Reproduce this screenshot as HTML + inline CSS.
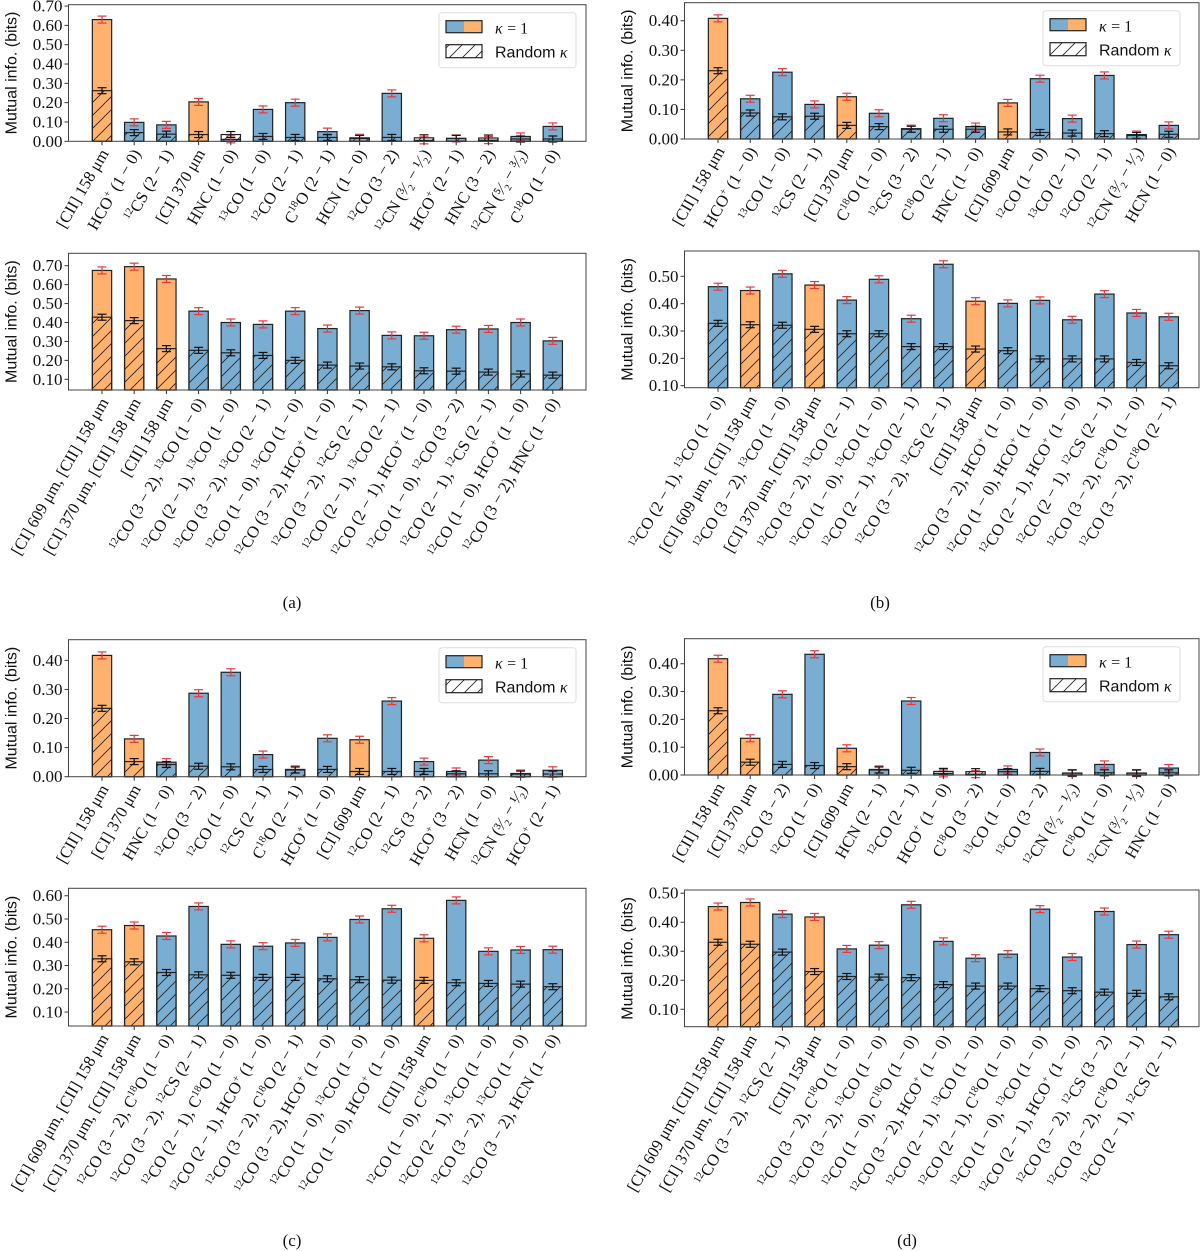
<!DOCTYPE html>
<html><head><meta charset="utf-8"><style>
html,body{margin:0;padding:0;background:#fff;}
svg{display:block;}
.tk{font-family:"Liberation Serif",serif;font-size:17px;fill:#111;}
.xl{font-family:"Liberation Serif",serif;font-size:16.5px;fill:#111;}
.yl{font-family:"Liberation Sans","DejaVu Sans",sans-serif;font-size:16px;fill:#111;}
.lg{font-family:"Liberation Sans","DejaVu Sans",sans-serif;font-size:16px;fill:#111;}
.cap{font-family:"Liberation Serif",serif;font-size:17px;fill:#111;}
</style></head><body>
<svg id="fig" width="1200" height="1251" viewBox="0 0 1200 1251" xmlns="http://www.w3.org/2000/svg">
<defs><pattern id="hatch" patternUnits="userSpaceOnUse" width="13" height="13"><path d="M-1,14 L14,-1 M-1,1 L1,-1 M12,14 L14,12" stroke="#222" stroke-width="0.8"/></pattern></defs>
</svg>
<script>
// ---- data arrays ----
const labelsA1=["[CII] 158 μm","HCO{+} (1 − 0)","{12}CS (2 − 1)","[CI] 370 μm","HNC (1 − 0)","{13}CO (1 − 0)","{12}CO (2 − 1)","C{18}O (2 − 1)","HCN (1 − 0)","{12}CO (3 − 2)","{12}CN (³⁄₂ − ¹⁄₂)","HCO{+} (2 − 1)","HNC (3 − 2)","{12}CN (⁵⁄₂ − ³⁄₂)","C{18}O (1 − 0)"];
const kappaA1=[0.63,0.098,0.085,0.204,0.010,0.165,0.200,0.050,0.018,0.248,0.005,0.015,0.006,0.025,0.077];
const randA1=[0.262,0.045,0.037,0.035,0.035,0.025,0.020,0.020,0.015,0.020,0.018,0.015,0.017,0.012,0.012];
const ticksA1=[0,0.1,0.2,0.3,0.4,0.5,0.6,0.7];

const labelsA2=["[CI] 609 μm, [CII] 158 μm","[CI] 370 μm, [CII] 158 μm","[CII] 158 μm","{12}CO (3 − 2), {13}CO (1 − 0)","{12}CO (2 − 1), {13}CO (1 − 0)","{12}CO (3 − 2), {13}CO (2 − 1)","{12}CO (1 − 0), {13}CO (1 − 0)","{12}CO (3 − 2), HCO{+} (1 − 0)","{12}CO (3 − 2), {12}CS (2 − 1)","{12}CO (2 − 1), {13}CO (2 − 1)","{12}CO (2 − 1), HCO{+} (1 − 0)","{12}CO (1 − 0), {12}CO (3 − 2)","{12}CO (2 − 1), {12}CS (2 − 1)","{12}CO (1 − 0), HCO{+} (1 − 0)","{12}CO (3 − 2), HNC (1 − 0)"];
const kappaA2=[0.675,0.695,0.63,0.46,0.40,0.39,0.46,0.368,0.463,0.332,0.33,0.362,0.366,0.40,0.303];
const randA2=[0.428,0.41,0.262,0.253,0.24,0.226,0.20,0.175,0.17,0.166,0.145,0.143,0.138,0.128,0.122];
const ticksA2=[0.1,0.2,0.3,0.4,0.5,0.6,0.7];

const labelsB1=["[CII] 158 μm","HCO{+} (1 − 0)","{13}CO (1 − 0)","{12}CS (2 − 1)","[CI] 370 μm","C{18}O (1 − 0)","{12}CS (3 − 2)","C{18}O (2 − 1)","HNC (1 − 0)","[CI] 609 μm","{12}CO (1 − 0)","{13}CO (2 − 1)","{12}CO (2 − 1)","{12}CN (³⁄₂ − ¹⁄₂)","HCN (1 − 0)"];
const kappaB1=[0.408,0.136,0.226,0.117,0.143,0.087,0.035,0.070,0.042,0.122,0.204,0.069,0.215,0.015,0.046];
const randB1=[0.231,0.088,0.075,0.077,0.046,0.042,0.033,0.033,0.033,0.024,0.022,0.020,0.018,0.012,0.016];
const ticksB1=[0,0.1,0.2,0.3,0.4];

const labelsB2=["{12}CO (2 − 1), {13}CO (1 − 0)","[CI] 609 μm, [CII] 158 μm","{12}CO (3 − 2), {13}CO (1 − 0)","[CI] 370 μm, [CII] 158 μm","{12}CO (3 − 2), {13}CO (2 − 1)","{12}CO (1 − 0), {13}CO (1 − 0)","{12}CO (2 − 1), {13}CO (2 − 1)","{12}CO (3 − 2), {12}CS (2 − 1)","[CII] 158 μm","{12}CO (3 − 2), HCO{+} (1 − 0)","{12}CO (1 − 0), HCO{+} (1 − 0)","{12}CO (2 − 1), HCO{+} (1 − 0)","{12}CO (2 − 1), {12}CS (2 − 1)","{12}CO (3 − 2), C{18}O (1 − 0)","{12}CO (3 − 2), C{18}O (2 − 1)"];
const kappaB2=[0.462,0.448,0.509,0.468,0.413,0.489,0.345,0.544,0.409,0.401,0.412,0.341,0.435,0.366,0.352];
const randB2=[0.328,0.323,0.321,0.306,0.29,0.29,0.243,0.243,0.234,0.228,0.198,0.198,0.198,0.185,0.173];
const ticksB2=[0.1,0.2,0.3,0.4,0.5];

const labelsC1=["[CII] 158 μm","[CI] 370 μm","HNC (1 − 0)","{12}CO (3 − 2)","{12}CO (1 − 0)","{12}CS (2 − 1)","C{18}O (2 − 1)","HCO{+} (1 − 0)","[CI] 609 μm","{12}CO (2 − 1)","{12}CS (3 − 2)","HCO{+} (3 − 2)","HCN (1 − 0)","{12}CN (³⁄₂ − ¹⁄₂)","HCO{+} (2 − 1)"];
const kappaC1=[0.417,0.130,0.050,0.287,0.359,0.076,0.025,0.132,0.127,0.260,0.052,0.018,0.057,0.011,0.022];
const randC1=[0.235,0.052,0.042,0.036,0.034,0.025,0.023,0.025,0.018,0.018,0.018,0.010,0.010,0.009,0.009];
const ticksC1=[0,0.1,0.2,0.3,0.4];

const labelsC2=["[CI] 609 μm, [CII] 158 μm","[CI] 370 μm, [CII] 158 μm","{12}CO (3 − 2), C{18}O (1 − 0)","{12}CO (3 − 2), {12}CS (2 − 1)","{12}CO (2 − 1), C{18}O (1 − 0)","{12}CO (2 − 1), HCO{+} (1 − 0)","{12}CO (3 − 2), C{18}O (2 − 1)","{12}CO (3 − 2), HCO{+} (1 − 0)","{12}CO (1 − 0), {13}CO (1 − 0)","{12}CO (1 − 0), HCO{+} (1 − 0)","[CII] 158 μm","{12}CO (1 − 0), C{18}O (1 − 0)","{12}CO (2 − 1), {13}CO (1 − 0)","{12}CO (3 − 2), {13}CO (1 − 0)","{12}CO (3 − 2), HCN (1 − 0)"];
const kappaC2=[0.454,0.472,0.427,0.554,0.391,0.383,0.397,0.421,0.498,0.544,0.417,0.58,0.361,0.367,0.368];
const randC2=[0.329,0.316,0.27,0.26,0.258,0.249,0.249,0.243,0.239,0.237,0.236,0.226,0.223,0.22,0.209];
const ticksC2=[0.1,0.2,0.3,0.4,0.5,0.6];

const labelsD1=["[CII] 158 μm","[CI] 370 μm","{12}CO (3 − 2)","{12}CO (1 − 0)","[CI] 609 μm","HCN (2 − 1)","{12}CO (2 − 1)","HCO{+} (1 − 0)","C{18}O (3 − 2)","{13}CO (1 − 0)","{13}CO (3 − 2)","{12}CN (³⁄₂ − ¹⁄₂)","C{18}O (1 − 0)","{12}CN (³⁄₂ − ¹⁄₂)","HNC (1 − 0)"];
const kappaD1=[0.418,0.132,0.290,0.434,0.096,0.020,0.266,0.006,0.003,0.020,0.081,0.007,0.038,0.007,0.025];
const randD1=[0.231,0.046,0.038,0.034,0.030,0.018,0.017,0.013,0.012,0.012,0.013,0.007,0.008,0.007,0.008];
const ticksD1=[0,0.1,0.2,0.3,0.4];

const labelsD2=["[CI] 609 μm, [CII] 158 μm","[CI] 370 μm, [CII] 158 μm","{12}CO (3 − 2), {12}CS (2 − 1)","[CII] 158 μm","{12}CO (3 − 2), C{18}O (1 − 0)","{12}CO (3 − 2), {13}CO (1 − 0)","{12}CO (1 − 0), C{18}O (1 − 0)","{12}CO (3 − 2), HCO{+} (1 − 0)","{12}CO (2 − 1), {13}CO (1 − 0)","{12}CO (2 − 1), C{18}O (1 − 0)","{12}CO (1 − 0), {13}CO (1 − 0)","{12}CO (2 − 1), HCO{+} (1 − 0)","{12}CO (3 − 2), {12}CS (3 − 2)","{12}CO (3 − 2), C{18}O (2 − 1)","{12}CO (2 − 1), {12}CS (2 − 1)"];
const kappaD2=[0.454,0.468,0.428,0.418,0.308,0.321,0.46,0.334,0.276,0.29,0.445,0.28,0.437,0.323,0.357];
const randD2=[0.331,0.324,0.297,0.23,0.213,0.211,0.209,0.185,0.18,0.18,0.171,0.164,0.159,0.155,0.143];
const ticksD2=[0.1,0.2,0.3,0.4,0.5];

// ---- layout (pixels) ----
const panels=[
 {id:'a-top',labels:labelsA1,k:kappaA1,r:randA1,ticks:ticksA1,x0:68.5,x1:586,cx0:102,y0:4.7,y1:141.3,ymin:0,ymax:0.707,legend:true},
 {id:'a-bottom',labels:labelsA2,k:kappaA2,r:randA2,ticks:ticksA2,x0:68.5,x1:586,cx0:102,y0:253.3,y1:390,ymin:0.0435,ymax:0.7655},
 {id:'b-top',labels:labelsB1,k:kappaB1,r:randB1,ticks:ticksB1,x0:684.5,x1:1199,cx0:718,y0:2.7,y1:139,ymin:0,ymax:0.461,legend:true},
 {id:'b-bottom',labels:labelsB2,k:kappaB2,r:randB2,ticks:ticksB2,x0:684.5,x1:1199,cx0:718,y0:251,y1:387.7,ymin:0.0927,ymax:0.5925},
 {id:'c-top',labels:labelsC1,k:kappaC1,r:randC1,ticks:ticksC1,x0:68.5,x1:586,cx0:102,y0:639.7,y1:776.7,ymin:0,ymax:0.471,legend:true},
 {id:'c-bottom',labels:labelsC2,k:kappaC2,r:randC2,ticks:ticksC2,x0:68.5,x1:586,cx0:102,y0:888.3,y1:1026,ymin:0.04,ymax:0.632},
 {id:'d-top',labels:labelsD1,k:kappaD1,r:randD1,ticks:ticksD1,x0:684.5,x1:1199,cx0:718,y0:638.7,y1:775,ymin:0,ymax:0.49,legend:true},
 {id:'d-bottom',labels:labelsD2,k:kappaD2,r:randD2,ticks:ticksD2,x0:684.5,x1:1199,cx0:718,y0:890,y1:1026.7,ymin:0.04,ymax:0.511}
];
const BLUE='#79add2',ORANGE='#ffb26e',STEP=32.2,BW=19.3;
const svg=document.getElementById('fig');
const NS='http://www.w3.org/2000/svg';
function mk(tag,attrs,parent){const e=document.createElementNS(NS,tag);for(const a in attrs)e.setAttribute(a,attrs[a]);(parent||svg).appendChild(e);return e;}
function richText(t,str){
  const parts=str.split(/(\{[^}]*\})/);let sup=false;
  parts.forEach(p=>{if(!p)return;
    if(p[0]==='{'){const s=mk('tspan',{dy:-6,'font-size':'10.5px'},t);s.textContent=p.slice(1,-1);sup=true;}
    else{const s=mk('tspan',sup?{dy:6}:{},t);s.textContent=p;sup=false;}
  });
}
panels.forEach(P=>{
  const g=mk('g',{});
  
  
  const yS=v=>P.y1-(v-P.ymin)/(P.ymax-P.ymin)*(P.y1-P.y0);
  const xS=i=>P.cx0+i*STEP;
  const yb=P.y1;
  P.ticks.forEach(t=>{
    const y=yS(t);
    mk('line',{x1:P.x0-4,x2:P.x0,y1:y,y2:y,stroke:'#333','stroke-width':1},g);
    const tx=mk('text',{x:P.x0-6,y:y+5.5,'text-anchor':'end',class:'tk'},g);
    
    
    tx.textContent=t.toFixed(2);
  });
  const yl=mk('text',{x:0,y:0,class:'yl','text-anchor':'middle',transform:`translate(${P.x0-52},${(P.y0+P.y1)/2}) rotate(-90)`},g);
  
  
  yl.textContent='Mutual info.  (bits)';
  P.k.forEach((kv,i)=>{
    const cx=xS(i);const col=P.labels[i].indexOf('[C')>=0?ORANGE:BLUE;
    const bk=mk('rect',{x:cx-BW/2,y:yS(kv),width:BW,height:yb-yS(kv),fill:col,stroke:'#222','stroke-width':1.2},g);
    
    
    const rv=P.r[i];
    const br=mk('rect',{x:cx-BW/2,y:yS(rv),width:BW,height:yb-yS(rv),fill:'url(#hatch)',stroke:'#222','stroke-width':1.2},g);
    
    
    [[kv,'#e8383d',3.5],[rv,'#111',3]].forEach(([v,c,h])=>{
      const y=yS(v);
      mk('line',{x1:cx,x2:cx,y1:y-h,y2:y+h,stroke:c,'stroke-width':1.2},g);
      mk('line',{x1:cx-4.5,x2:cx+4.5,y1:y-h,y2:y-h,stroke:c,'stroke-width':1.2},g);
      mk('line',{x1:cx-4.5,x2:cx+4.5,y1:y+h,y2:y+h,stroke:c,'stroke-width':1.2},g);
    });
    mk('line',{x1:cx,x2:cx,y1:yb,y2:yb+4,stroke:'#333','stroke-width':1},g);
    const lt=mk('text',{x:0,y:0,class:'xl','text-anchor':'end',transform:`translate(${cx+7},${yb+12}) rotate(-60)`},g);
    
    
    richText(lt,P.labels[i]);
  });
  const fr=mk('rect',{x:P.x0,y:P.y0,width:P.x1-P.x0,height:P.y1-P.y0,fill:'none',stroke:'#444','stroke-width':1},g);
  
  
  if(P.legend){
    const lx=P.x1-147-(P.x1>1190?9:0), ly=P.y0+8;
    const lg=mk('g',{},g);
    
    
    mk('rect',{x:lx,y:ly,width:137,height:55,rx:3,fill:'#fff','fill-opacity':0.85,stroke:'#ddd'},lg);
    mk('rect',{x:lx+7,y:ly+8,width:18,height:12,fill:BLUE},lg);
    mk('rect',{x:lx+25,y:ly+8,width:18,height:12,fill:ORANGE},lg);
    mk('rect',{x:lx+7,y:ly+8,width:36,height:12,fill:'none',stroke:'#222','stroke-width':1.2},lg);
    mk('rect',{x:lx+7,y:ly+32,width:36,height:13,fill:'url(#hatch)',stroke:'#222','stroke-width':1.2},lg);
    const t1=mk('text',{x:lx+56,y:ly+21,class:'lg','font-size':'17px'},lg);
    
    
    t1.innerHTML='<tspan font-style="italic" font-family="Liberation Serif">κ</tspan> <tspan font-family="Liberation Serif">= 1</tspan>';
    const t2=mk('text',{x:lx+56,y:ly+45,class:'lg'},lg);
    
    
    t2.innerHTML='Random <tspan font-style="italic" font-family="Liberation Serif">κ</tspan>';
  }
});
[['(a)',292,608],['(b)',880,608],['(c)',292,1246],['(d)',907,1246]].forEach(([s,x,y])=>{
  const c=mk('text',{x:x,y:y,class:'cap','text-anchor':'middle'});
  
  
  c.textContent=s;
});
</script>
</body></html>
